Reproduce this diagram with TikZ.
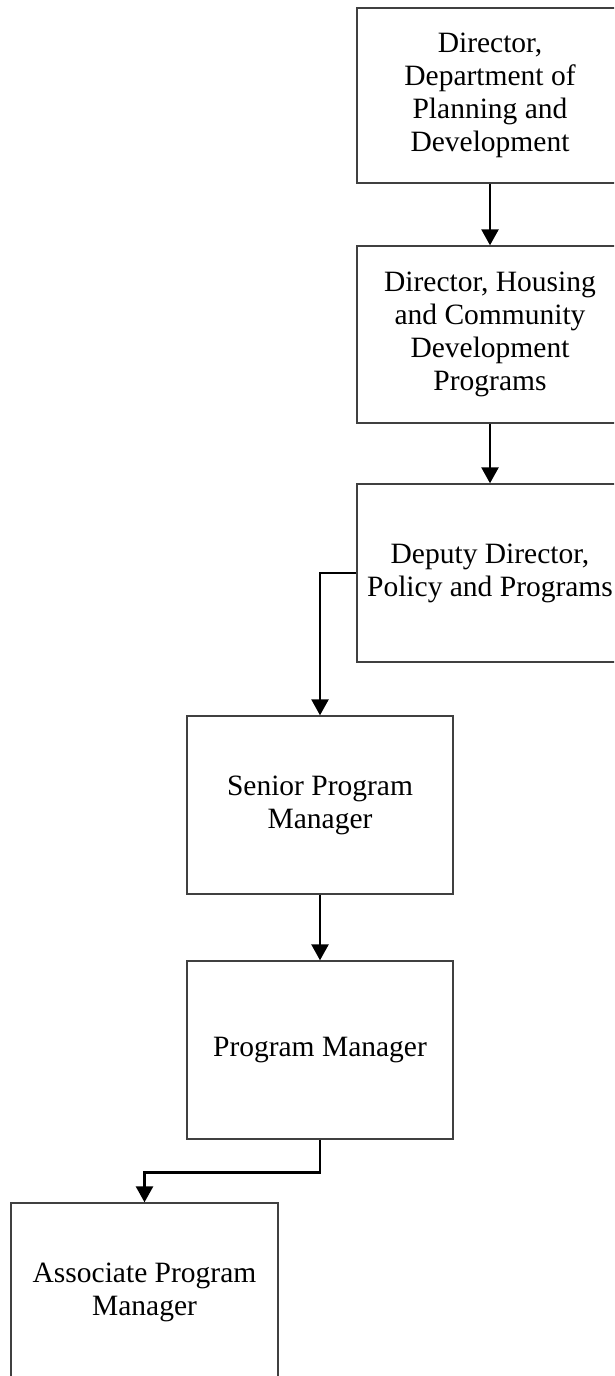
\documentclass[tikz,border=0pt]{standalone}
\usepackage{fontspec}
\setmainfont{Liberation Serif}
\usetikzlibrary{arrows.meta}
\begin{document}
\begin{tikzpicture}[x=1pt,y=-1pt,
  box/.style={draw=black!75,line width=1.4pt,minimum width=266pt,minimum height=177pt,
    inner sep=0pt,align=center,font=\fontsize{29.5}{33}\selectfont,text=black},
  conn/.style={line width=2.6pt,-{Triangle[width=17pt,length=16pt]}}]
\useasboundingbox (0,0) rectangle (614,1376);
\clip (0,0) rectangle (614,1376);
\fill[white] (0,0) rectangle (614,1376);
\node[box,minimum height=175pt] (b1) at (490,95.5) {Director,\\Department of\\Planning and\\Development};
\node[box] (b2) at (490,334.5) {Director, Housing\\and Community\\Development\\Programs};
\node[box,minimum height=178pt] (b3) at (490,573) {Deputy Director,\\Policy and Programs};
\node[box,minimum height=178pt] (b4) at (320,805) {Senior Program\\Manager};
\node[box,minimum height=178pt] (b5) at (320,1050) {Program Manager};
\node[box,minimum width=267pt,minimum height=178pt] (b6) at (144.5,1292) {Associate Program\\Manager};
\draw[conn] (b1.south) -- (b2.north);
\draw[conn] (b2.south) -- (b3.north);
\draw[conn] (b3.west) -| (b4.north);
\draw[conn] (b4.south) -- (b5.north);
\draw[conn] (b5.south) -- ++(0,33) -| (b6.north);
\end{tikzpicture}
\end{document}
